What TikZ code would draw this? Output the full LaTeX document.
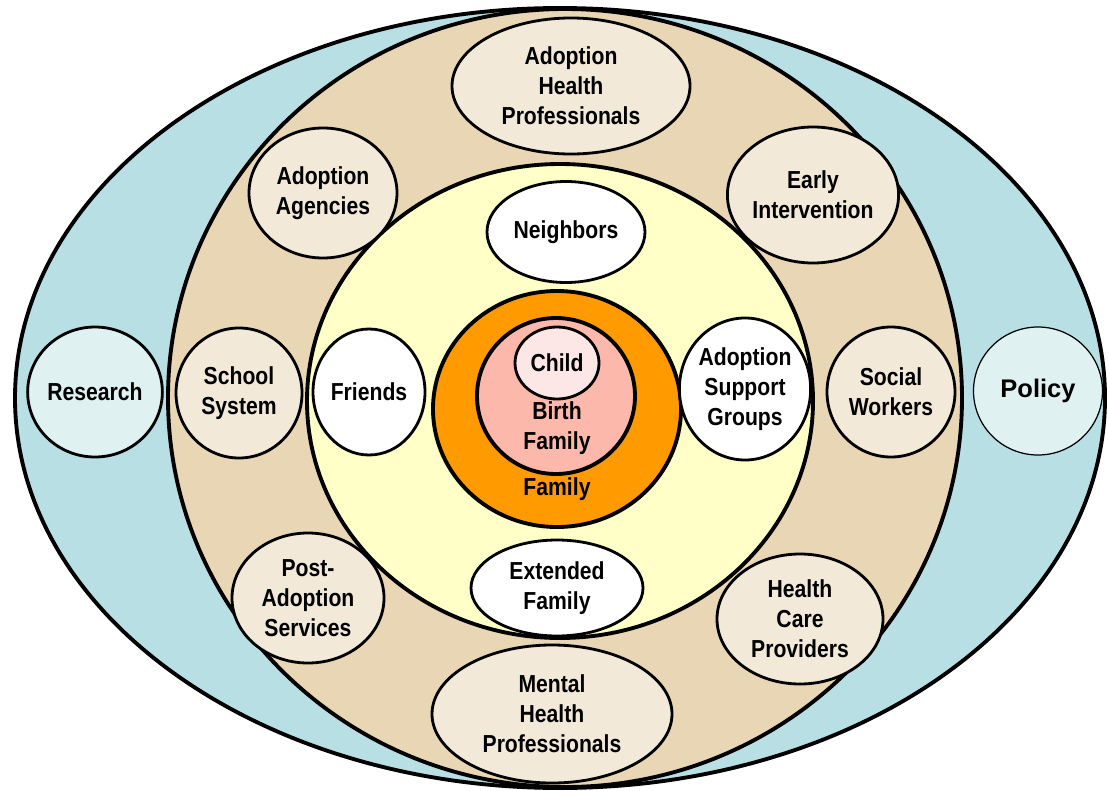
\documentclass[tikz,border=0pt]{standalone}
\usepackage{fontspec}
\setmainfont{Liberation Sans}[FakeStretch=0.86]
\newfontfamily\widefont{Liberation Sans}
\usetikzlibrary{shapes.geometric}
\definecolor{outerblue}{HTML}{B8DFE3}
\definecolor{tan}{HTML}{E8D6B5}
\definecolor{paper}{HTML}{F2E9D9}
\definecolor{pale}{HTML}{DFF1F1}
\definecolor{lemon}{HTML}{FFFFC8}
\definecolor{amber}{HTML}{FF9A00}
\definecolor{salmon}{HTML}{FBB8AB}
\definecolor{blush}{HTML}{FDE6E6}
\tikzset{%
	ring/.style   = {draw, line width=2.2pt},
	bubble/.style = {draw, ellipse, line width=1.6pt, fill=paper, inner sep=0pt,
		align=center, font=\fontsize{14}{17}\selectfont\bfseries},
	sz/.style 2 args = {minimum width=#1*0.02cm, minimum height=#2*0.02cm}
}
\begin{document}
\begin{tikzpicture}[x=0.02cm, y=-0.02cm]
	\useasboundingbox (0,0) rectangle (1109,791);
	% nested rings
	\draw[ring, fill=outerblue] (560,398) ellipse [x radius=545, y radius=390];
	\draw[ring, fill=tan] (565,398) ellipse [x radius=397, y radius=389];
	\draw[ring, fill=lemon] (560,401) ellipse [x radius=253, y radius=237];
	\draw[ring, fill=amber] (557,409) ellipse [x radius=124, y radius=118];
	\draw[ring, fill=salmon] (556,396) ellipse [x radius=79, y radius=78];
	
	\draw
		node at (557,363) [bubble, sz={84}{72}, fill=blush, name=child] {Child}
		node at (557,428) [align=center, font=\fontsize{14}{17}\selectfont\bfseries, name=birth] {Birth\\Family}
		node at (557,489) [font=\fontsize{14}{17}\selectfont\bfseries, name=family] {Family}
		
		node at (566,232) [bubble, sz={158}{101}, fill=white, name=nb] {Neighbors}
		node at (369,392) [bubble, sz={112}{126}, fill=white, name=fr] {Friends}
		node at (745,389) [bubble, sz={128}{142}, fill=white, name=asg] {Adoption\\Support\\Groups}
		node at (557,588) [bubble, sz={172}{96}, fill=white, name=ef] {Extended\\Family}
		
		node at (571,86) [bubble, sz={238}{136}, name=ahp] {Adoption\\Health\\Professionals}
		node at (323,193) [bubble, sz={148}{130}, name=aa] {Adoption\\Agencies}
		node at (813,195) [bubble, sz={157}{136}, name=ei] {Early\\Intervention}
		node at (239,393) [bubble, sz={126}{130}, name=ss] {School\\System}
		node at (891,392) [bubble, sz={128}{130}, name=sw] {Social\\Workers}
		node at (308,598) [bubble, sz={152}{130}, name=pas] {Post-\\Adoption\\Services}
		node at (800,619) [bubble, sz={166}{130}, name=hcp] {Health\\Care\\Providers}
		node at (552,714) [bubble, sz={240}{138}, name=mhp] {Mental\\Health\\Professionals}
		
		node at (95,392) [bubble, sz={132}{130}, fill=pale, name=res] {Research}
		node at (1038,391) [bubble, sz={129}{128}, fill=pale, line width=0.7pt,
			font=\widefont\fontsize{14.5}{17}\selectfont\bfseries, name=pol] {Policy};
\end{tikzpicture}
\end{document}
